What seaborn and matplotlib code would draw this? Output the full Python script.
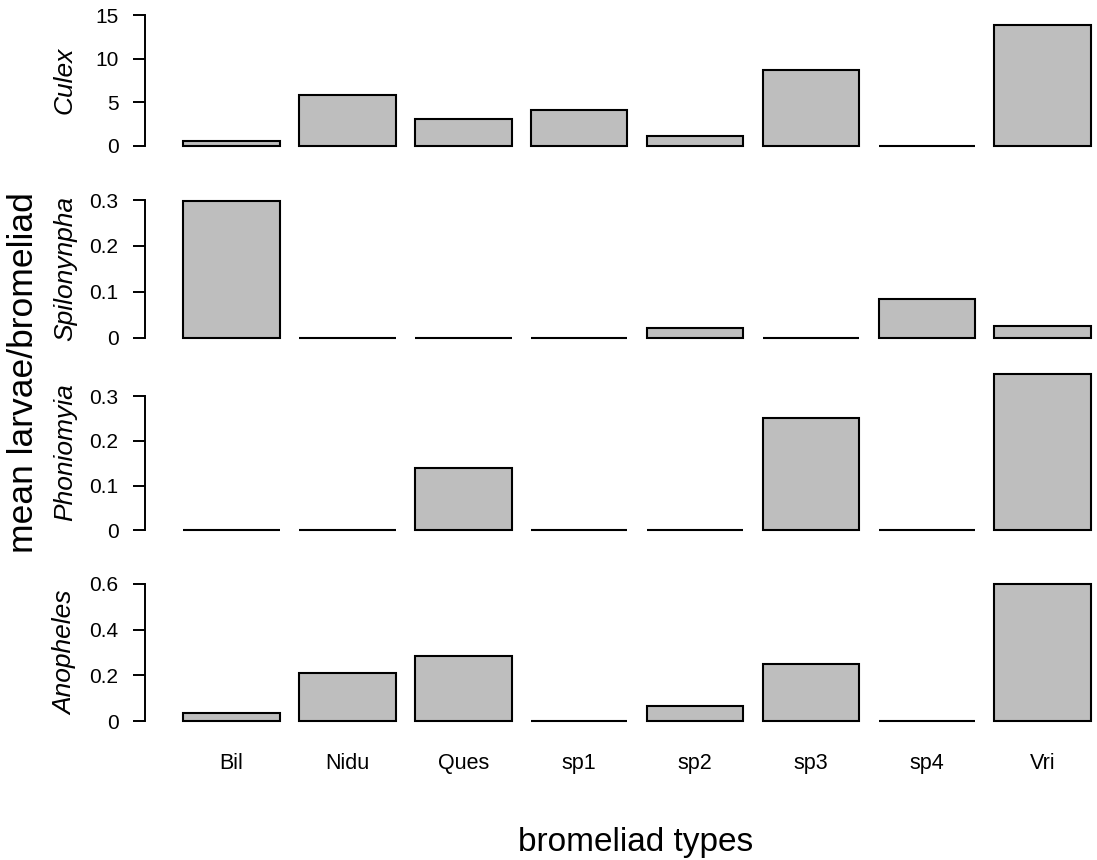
#!/usr/bin/env python3
import seaborn as sns
import pandas as pd
import numpy as np
import matplotlib
matplotlib.use("Agg")
import matplotlib.pyplot as plt
import matplotlib.ticker as ticker

sns.set_style("white")
plt.rcParams['font.family'] = ['Liberation Sans', 'DejaVu Sans']
plt.rcParams['text.color'] = 'black'
plt.rcParams['axes.labelcolor'] = 'black'
plt.rcParams['xtick.color'] = 'black'
plt.rcParams['ytick.color'] = 'black'

# data
bromeliad_types = ["Bil", "Nidu", "Ques", "sp1", "sp2", "sp3", "sp4", "Vri"]
species = ["Culex", "Spilonynpha", "Phoniomyia", "Anopheles"]
culex = [0.58, 5.85, 3.07, 4.05, 1.15, 8.75, 0.0, 13.9]
spilonynpha = [0.298, 0.0, 0.0, 0.0, 0.021, 0.0, 0.085, 0.025]
phoniomyia = [0.0, 0.0, 0.139, 0.0, 0.0, 0.251, 0.0, 0.351]
anopheles = [0.035, 0.209, 0.286, 0.0, 0.067, 0.25, 0.0, 0.6]
y_ticks = [[0, 5, 10, 15], [0, 0.1, 0.2, 0.3], [0, 0.1, 0.2, 0.3], [0, 0.2, 0.4, 0.6]]

# layout: pixel rows of the zero line and of the top tick in each panel
W, H = 1097, 860
zero_px = [145.7, 337.7, 530.3, 721.3]
top_tick_px = [15.3, 200.0, 396.3, 583.7]
ax_left_px = 145.0

values = [culex, spilonynpha, phoniomyia, anopheles]

fig = plt.figure(figsize=(W / 100, H / 100), dpi=100)

for i, (name, vals) in enumerate(zip(species, values)):
    df = pd.DataFrame({"type": bromeliad_types, "mean": vals})
    ticks = y_ticks[i]
    scale = (zero_px[i] - top_tick_px[i]) / ticks[-1]  # px per unit
    top = max(max(vals), ticks[-1])
    ylo, yhi = -0.04 * top, 1.04 * top
    bot_px = zero_px[i] - ylo * scale
    topp_px = zero_px[i] - yhi * scale
    ax = fig.add_axes([ax_left_px / W, 1 - bot_px / H,
                       (W - ax_left_px) / W, (bot_px - topp_px) / H])

    sns.barplot(data=df, x="type", y="mean", order=bromeliad_types, ax=ax,
                color="#BEBEBE", saturation=1, width=0.833, errorbar=None,
                edgecolor="black", linewidth=1.5)

    ax.set_xlim(-0.746, 7.468)
    ax.set_ylim(ylo, yhi)
    ax.set_yticks(ticks)
    ax.yaxis.set_major_formatter(ticker.FormatStrFormatter('%g'))
    ax.tick_params(axis='y', direction='out', length=9, width=1.4, pad=10,
                   labelsize=15, left=True, color='black', labelcolor='black')
    for s in ["top", "right", "bottom"]:
        ax.spines[s].set_visible(False)
    ax.spines["left"].set_bounds(0, ticks[-1])
    ax.spines["left"].set_linewidth(1.4)
    ax.spines["left"].set_color("black")
    ax.set_ylabel("")
    ax.set_xlabel("")

    if i == len(species) - 1:
        ax.tick_params(axis='x', length=0, pad=19, labelsize=15.5, labelcolor='black')
    else:
        ax.set_xticks([])

    ycen = 1 - (bot_px + topp_px) / 2 / H
    fig.text(65 / W, ycen, name, rotation=90, ha='center', va='center',
             fontsize=19, style='italic', color='black')

fig.text(24 / W, 1 - 373 / H, "mean larvae/bromeliad", rotation=90,
         ha='center', va='center', fontsize=25.5, color='black')
fig.text(636 / W, 1 - 851 / H, "bromeliad types", ha='center',
         va='baseline', fontsize=24, color='black')

fig.savefig("out.png", dpi=100)
